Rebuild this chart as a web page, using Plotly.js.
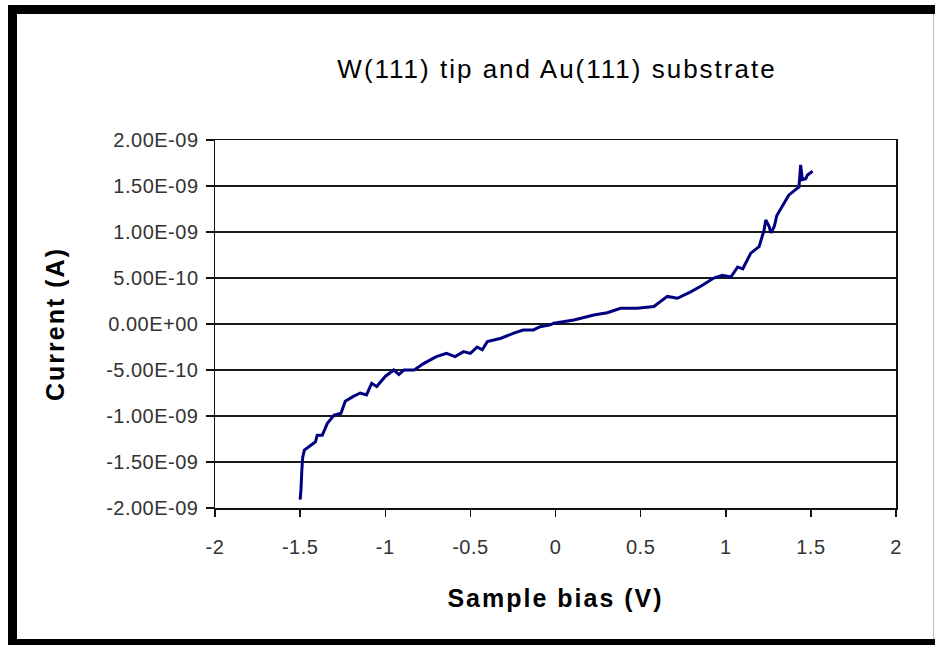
<!DOCTYPE html>
<html>
<head>
<meta charset="utf-8">
<script src="https://cdn.plot.ly/plotly-3.0.1.min.js"></script>
<style>
  html, body { margin: 0; padding: 0; background: #fff; }
  #chart { width: 935px; height: 645px; }
  #chart .gtitle { letter-spacing: 2px; }
  #chart .xtitle, #chart .ytitle { letter-spacing: 2px; }
  #chart .xtick text, #chart .ytick text { letter-spacing: 0.5px; }
</style>
</head>
<body>
<div id="chart"></div>
<script>
// Sample bias (V)
const biasV = [
  -1.500, -1.495, -1.490, -1.485, -1.475, -1.440, -1.410, -1.400, -1.370, -1.340,
  -1.300, -1.260, -1.235, -1.190, -1.147, -1.110, -1.080, -1.050, -1.000, -0.950,
  -0.920, -0.890, -0.830, -0.775, -0.700, -0.640, -0.590, -0.540, -0.500, -0.460,
  -0.430, -0.400, -0.320, -0.245, -0.190, -0.130, -0.090, -0.030, -0.010, 0.108,
  0.225, 0.304, 0.382, 0.480, 0.578, 0.657, 0.716, 0.794, 0.853, 0.930,
  0.980, 1.030, 1.070, 1.100, 1.147, 1.196, 1.225, 1.235, 1.255, 1.265,
  1.285, 1.300, 1.340, 1.370, 1.410, 1.430, 1.440, 1.450, 1.470, 1.480, 1.510
];
// Current (A), in units of 1e-9 A
const currentNA = [
  -1.91, -1.80, -1.59, -1.45, -1.37, -1.32, -1.28, -1.21, -1.21, -1.08,
  -0.99, -0.97, -0.84, -0.79, -0.75, -0.77, -0.645, -0.68, -0.57, -0.50,
  -0.55, -0.50, -0.50, -0.43, -0.355, -0.32, -0.355, -0.30, -0.32, -0.25,
  -0.28, -0.19, -0.155, -0.10, -0.065, -0.065, -0.03, -0.01, 0.008, 0.043,
  0.098, 0.123, 0.17, 0.17, 0.19, 0.30, 0.28, 0.35, 0.41, 0.50,
  0.53, 0.51, 0.62, 0.60, 0.77, 0.84, 1.02, 1.13, 1.06, 0.99,
  1.06, 1.18, 1.31, 1.40, 1.46, 1.49, 1.73, 1.57, 1.58, 1.62, 1.66
];
const currentA = currentNA.map(v => v * 1e-9);

const yTickVals = [-2e-9, -1.5e-9, -1e-9, -5e-10, 0, 5e-10, 1e-9, 1.5e-9, 2e-9];
const yTickText = ["-2.00E-09", "-1.50E-09", "-1.00E-09", "-5.00E-10", "0.00E+00",
                   "5.00E-10", "1.00E-09", "1.50E-09", "2.00E-09"];
const xTickVals = [-2, -1.5, -1, -0.5, 0, 0.5, 1, 1.5, 2];
const xTickText = ["-2", "-1.5", "-1", "-0.5", "0", "0.5", "1", "1.5", "2"];

const FONT = "'Liberation Sans', Arial, sans-serif";

// plot area: x 215..896, y 140..508 in a 935x645 page
const L = 215, R = 896, T = 140, B = 508;
const px = x => (x - L) / (R - L);
const py = y => (B - y) / (B - T);

const trace = {
  x: biasV,
  y: currentA,
  type: 'scatter',
  mode: 'lines',
  line: { color: '#000080', width: 3 },
  hoverinfo: 'skip',
  showlegend: false
};

const layout = {
  width: 935,
  height: 645,
  margin: { l: L, r: 935 - R, t: T, b: 645 - B, pad: 0 },
  paper_bgcolor: '#ffffff',
  plot_bgcolor: '#ffffff',
  showlegend: false,
  title: {
    text: 'W(111) tip and Au(111) substrate',
    font: { family: FONT, size: 26, color: '#000' },
    x: px(557), xref: 'paper', xanchor: 'center',
    y: 1 - 69 / 645, yref: 'container', yanchor: 'middle'
  },
  xaxis: {
    range: [-2, 2],
    tickvals: xTickVals,
    ticktext: xTickText,
    ticks: 'outside', ticklen: 7, tickwidth: 1.5, tickcolor: '#111',
    showgrid: false, zeroline: false,
    showline: true, linecolor: '#111', linewidth: 1.5, mirror: true,
    tickfont: { family: FONT, size: 20, color: '#333' },
    ticklabelstandoff: 13,
    title: { text: 'Sample bias (V)', font: { family: FONT, size: 25, color: '#000', weight: 'bold' }, standoff: 33 },
    fixedrange: true
  },
  yaxis: {
    range: [-2e-9, 2e-9],
    tickvals: yTickVals,
    ticktext: yTickText,
    ticks: 'outside', ticklen: 8, tickwidth: 1.5, tickcolor: '#111',
    showgrid: true, gridcolor: '#1a1a1a', gridwidth: 1.6,
    zeroline: false,
    showline: true, linecolor: '#111', linewidth: 1.5, mirror: true,
    tickfont: { family: FONT, size: 20, color: '#333' },
    ticklabelstandoff: 3,
    title: { text: 'Current (A)', font: { family: FONT, size: 25, color: '#000', weight: 'bold' }, standoff: 39 },
    fixedrange: true
  },
  shapes: [
    // black picture frame: left, top, bottom bands, thin right edge
    { type: 'rect', xref: 'paper', yref: 'paper', x0: px(8), x1: px(17), y0: py(645), y1: py(5), fillcolor: '#000', line: { width: 0 }, layer: 'above' },
    { type: 'rect', xref: 'paper', yref: 'paper', x0: px(8), x1: px(935), y0: py(14), y1: py(5), fillcolor: '#000', line: { width: 0 }, layer: 'above' },
    { type: 'rect', xref: 'paper', yref: 'paper', x0: px(8), x1: px(935), y0: py(645), y1: py(639), fillcolor: '#000', line: { width: 0 }, layer: 'above' },
    { type: 'line', xref: 'paper', yref: 'paper', x0: px(933.5), x1: px(933.5), y0: py(639), y1: py(14), line: { color: '#bbb', width: 1 }, layer: 'above' }
  ]
};

Plotly.newPlot('chart', [trace], layout, { staticPlot: true, displayModeBar: false });
</script>
</body>
</html>
